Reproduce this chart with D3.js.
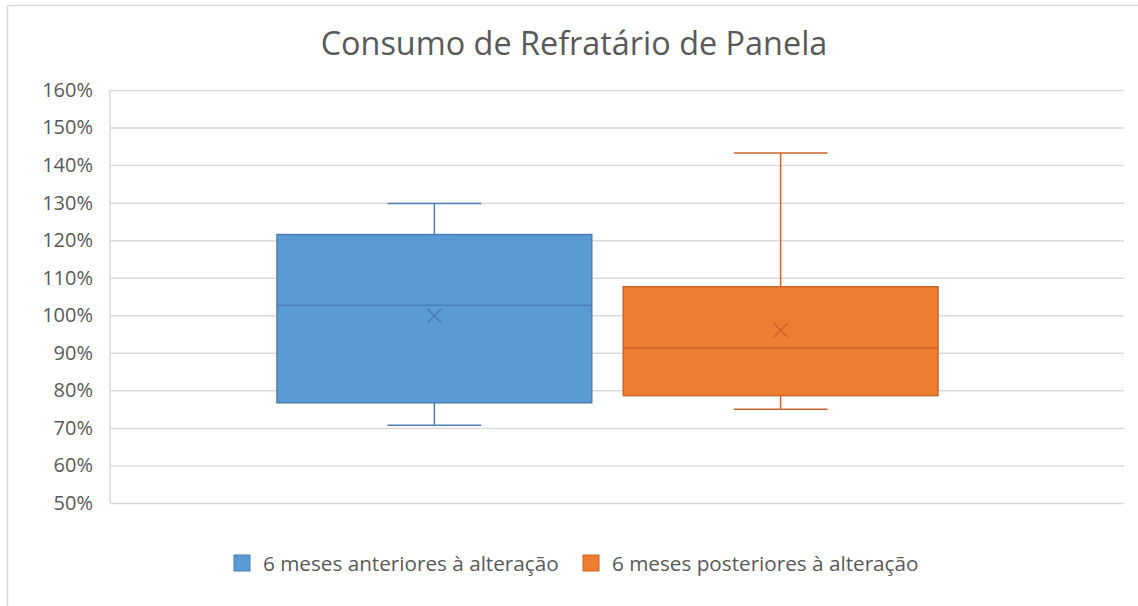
<!DOCTYPE html>
<html>
<head>
<meta charset="utf-8">
<script src="https://cdn.jsdelivr.net/npm/d3@7"></script>
<style>
  html, body { margin: 0; padding: 0; background: #fff; }
  svg { display: block; }
  text { font-family: "Open Sans", "Noto Sans", sans-serif; fill: #595959; }
</style>
</head>
<body>
<svg id="chart" width="1138" height="606"></svg>
<script>
// Series of the box plot (fractions, axis shows percent)
const seriesNames = ["6 meses anteriores à alteração", "6 meses posteriores à alteração"];
const whiskerLow  = [0.707, 0.750];
const q1          = [0.767, 0.786];
const medians     = [1.027, 0.913];
const q3          = [1.215, 1.076];
const whiskerHigh = [1.298, 1.432];
const means       = [0.999, 0.960];
const fillColors   = ["#5B9BD5", "#ED7D31"];
const strokeColors = ["#4A7EB5", "#C8652A"];
const yTicks = [0.5, 0.6, 0.7, 0.8, 0.9, 1.0, 1.1, 1.2, 1.3, 1.4, 1.5, 1.6];
const titleText = "Consumo de Refratário de Panela";

const svg = d3.select("#chart");
const W = 1138, H = 606;
const plot = { left: 110, right: 1124, top: 90, bottom: 503 };

// outer chart frame (top and left edges visible)
svg.append("path")
  .attr("d", `M7.5,${H} V5.5 H${W}`)
  .attr("fill", "none").attr("stroke", "#D9D9D9").attr("stroke-width", 1.5);

const y = d3.scaleLinear().domain([0.5, 1.6]).range([plot.bottom, plot.top]);
const x = d3.scaleBand().domain(seriesNames).range([277, 938]).paddingInner(0.091);

// gridlines
const yAxis = d3.axisLeft(y).tickValues(yTicks).tickSize(-(plot.right - plot.left))
  .tickFormat(d => Math.round(d * 100) + "%").tickPadding(17);
const gAxis = svg.append("g").attr("transform", `translate(${plot.left},0)`).call(yAxis);
gAxis.select(".domain").remove();
gAxis.selectAll(".tick line").attr("stroke", "#D9D9D9").attr("stroke-width", 1.5);
gAxis.selectAll(".tick text").attr("font-size", 20).attr("fill", "#595959")
  .attr("font-family", "'Open Sans', sans-serif");

// left axis line
svg.append("line")
  .attr("x1", plot.left).attr("x2", plot.left)
  .attr("y1", y(1.6)).attr("y2", y(0.5))
  .attr("stroke", "#D9D9D9").attr("stroke-width", 1.5);

// boxes
const data = seriesNames.map((name, i) => ({
  name, lo: whiskerLow[i], q1: q1[i], med: medians[i], q3: q3[i], hi: whiskerHigh[i],
  mean: means[i], fill: fillColors[i], stroke: strokeColors[i]
}));

const gBox = svg.selectAll("g.box").data(data).join("g").attr("class", "box");
const capHalf = d => x.bandwidth() * 0.149;

gBox.each(function(d) {
  const g = d3.select(this);
  const x0 = x(d.name), bw = x.bandwidth(), cx = x0 + bw / 2;
  // whiskers
  g.append("line").attr("x1", cx).attr("x2", cx).attr("y1", y(d.hi)).attr("y2", y(d.q3))
    .attr("stroke", d.stroke).attr("stroke-width", 1.5);
  g.append("line").attr("x1", cx).attr("x2", cx).attr("y1", y(d.q1)).attr("y2", y(d.lo))
    .attr("stroke", d.stroke).attr("stroke-width", 1.5);
  g.append("line").attr("x1", cx - capHalf(d)).attr("x2", cx + capHalf(d))
    .attr("y1", y(d.hi)).attr("y2", y(d.hi)).attr("stroke", d.stroke).attr("stroke-width", 1.5);
  g.append("line").attr("x1", cx - capHalf(d)).attr("x2", cx + capHalf(d))
    .attr("y1", y(d.lo)).attr("y2", y(d.lo)).attr("stroke", d.stroke).attr("stroke-width", 1.5);
  // box
  g.append("rect").attr("x", x0).attr("width", bw)
    .attr("y", y(d.q3)).attr("height", y(d.q1) - y(d.q3))
    .attr("fill", d.fill).attr("stroke", d.stroke).attr("stroke-width", 1.5);
  // median
  g.append("line").attr("x1", x0).attr("x2", x0 + bw)
    .attr("y1", y(d.med)).attr("y2", y(d.med))
    .attr("stroke", d.stroke).attr("stroke-width", 1.5);
  // mean marker
  const m = 7, my = y(d.mean);
  g.append("path")
    .attr("d", `M${cx - m},${my - m}L${cx + m},${my + m}M${cx - m},${my + m}L${cx + m},${my - m}`)
    .attr("stroke", d.stroke).attr("stroke-width", 1.5).attr("fill", "none");
});

// title
svg.append("text").attr("x", 574).attr("y", 55).attr("text-anchor", "middle")
  .attr("font-size", 32.4).text(titleText);

// legend
const legendX = [234, 583];
const gLeg = svg.selectAll("g.leg").data(data).join("g").attr("class", "leg")
  .attr("transform", (d, i) => `translate(${legendX[i]},555)`);
gLeg.append("rect").attr("width", 16).attr("height", 16)
  .attr("fill", d => d.fill).attr("stroke", d => d.stroke).attr("stroke-width", 1);
gLeg.append("text").attr("x", 29).attr("y", 15.5).attr("font-size", 20.7).text(d => d.name);
</script>
</body>
</html>
